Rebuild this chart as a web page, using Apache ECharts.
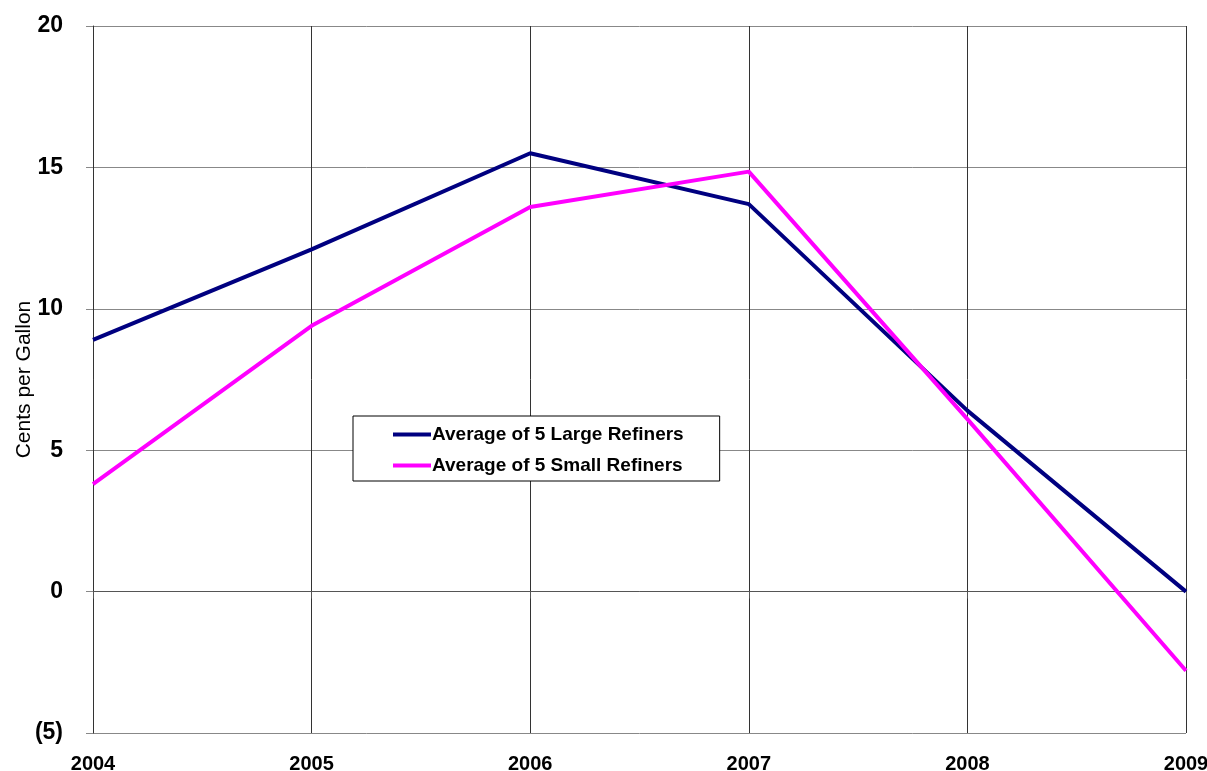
<!DOCTYPE html>
<html>
<head>
<meta charset="utf-8">
<script src="https://cdn.jsdelivr.net/npm/echarts@6/dist/echarts.min.js"></script>
<style>
  html, body { margin: 0; padding: 0; background: #fff; }
  #chart { width: 1207px; height: 771px; }
</style>
</head>
<body>
<div id="chart"></div>
<script>
const years = ["2004", "2005", "2006", "2007", "2008", "2009"];
const largeRefiners = [8.9, 12.1, 15.5, 13.7, 6.4, 0.0];
const smallRefiners = [3.8, 9.4, 13.6, 14.85, 6.1, -2.8];
const yTicks = { min: -5, max: 20, step: 5 };

const chart = echarts.init(document.getElementById("chart"));

const option = {
  animation: false,
  textStyle: { fontFamily: "Liberation Sans, Arial, sans-serif" },
  grid: { left: 93, right: 21, top: 26, bottom: 38, containLabel: false, outerBoundsMode: "none" },
  legend: {
    orient: "vertical",
    left: 353,
    top: 416,
    padding: [9, 36, 6, 40],
    backgroundColor: "#fff",
    borderColor: "#000",
    borderWidth: 1,
    borderRadius: 0,
    itemWidth: 38,
    itemHeight: 4,
    itemGap: 12,
    icon: "rect",
    textStyle: { fontSize: 19, fontWeight: "bold", color: "#000", padding: [0, 0, 0, -4] },
    data: ["Average of 5 Large Refiners", "Average of 5 Small Refiners"]
  },
  xAxis: {
    type: "category",
    data: years,
    boundaryGap: false,
    axisLine: { lineStyle: { color: "#555", width: 1 } },
    axisTick: { show: true, length: 7, inside: false, lineStyle: { color: "#555" } },
    axisLabel: { fontSize: 20, fontWeight: "bold", color: "#000", margin: 21 },
    splitLine: { show: true, lineStyle: { color: "#333", width: 1 } }
  },
  yAxis: {
    type: "value",
    min: yTicks.min,
    max: yTicks.max,
    interval: yTicks.step,
    name: "Cents per Gallon",
    nameLocation: "middle",
    nameGap: 58,
    nameRotate: 90,
    nameMoveOverlap: false,
    nameTextStyle: { fontSize: 21, color: "#000", padding: [0, 0, 0, 0] },
    axisLine: { show: true, lineStyle: { color: "#333", width: 1 } },
    axisTick: { show: true, length: 7, inside: false, lineStyle: { color: "#888" } },
    axisLabel: {
      fontSize: 23,
      fontWeight: "bold",
      color: "#000",
      margin: 30,
      formatter: (v) => (v < 0 ? "(" + Math.abs(v) + ")" : String(v))
    },
    splitLine: { show: true, lineStyle: { color: "#888", width: 1 } }
  },
  series: [
    {
      name: "Average of 5 Large Refiners",
      type: "line",
      data: largeRefiners,
      symbol: "none",
      lineStyle: { color: "#000080", width: 4 },
      itemStyle: { color: "#000080" },
      z: 3
    },
    {
      name: "Average of 5 Small Refiners",
      type: "line",
      data: smallRefiners,
      symbol: "none",
      lineStyle: { color: "#FF00FF", width: 4 },
      itemStyle: { color: "#FF00FF" },
      z: 4
    }
  ]
};

chart.setOption(option);
</script>
</body>
</html>
